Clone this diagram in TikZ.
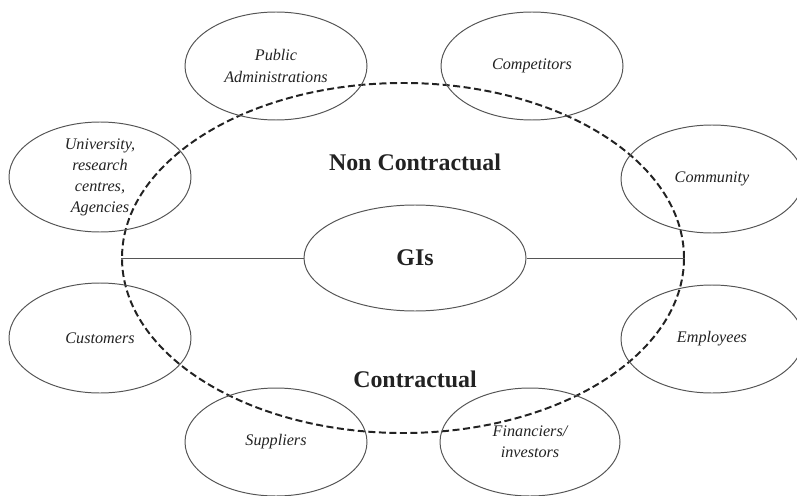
\documentclass[tikz,border=0pt]{standalone}
\usepackage{fontspec}
\setmainfont{Liberation Serif}
\usepackage{tikz}
\usetikzlibrary{shapes.geometric}
\definecolor{rimgray}{HTML}{555555}
\definecolor{inkdark}{HTML}{222222}

\begin{document}
\begin{tikzpicture}[
    party/.style={ellipse, draw=rimgray, line width=0.7pt, inner sep=0pt,
      minimum width=4.55cm, minimum height=2.7cm, align=center,
      font=\fontsize{11.5}{15}\selectfont\itshape, text=inkdark},
    boundary/.style={ellipse, draw=inkdark, line width=1.4pt,
      dash pattern=on 5pt off 2.5pt, inner sep=0pt},
    sector/.style={font=\fontsize{17}{20}\selectfont\bfseries, text=inkdark},
    split/.style={draw=rimgray, line width=0.7pt}
  ]
    \useasboundingbox (0, 0) rectangle (19.925, 12.375);
    \node[boundary, minimum width=14.05cm, minimum height=8.75cm] (field) at (10.075, 5.925) {};
    \node[party, minimum width=5.55cm, minimum height=2.65cm,
      font=\fontsize{17}{20}\selectfont\bfseries] (gis) at (10.375, 5.925) {GIs};
    \draw[split] (field.west) -- (gis.west);
    \draw[split] (gis.east) -- (field.east);
    \node[sector] (noncontr) at (10.375, 8.325) {Non Contractual};
    \node[sector] (contr) at (10.375, 2.9) {Contractual};
    % stakeholders around the circle
    \node[party] (padmin) at (6.9, 10.725) {Public\\Administrations};
    \node[party] (compet) at (13.3, 10.725) {Competitors};
    \node[party, minimum height=2.75cm] (univ) at (2.5, 7.95) {University,\\research\\centres,\\Agencies};
    \node[party] (commun) at (17.8, 7.9) {Community};
    \node[party, minimum height=2.75cm] (custom) at (2.5, 3.925) {Customers};
    \node[party] (employ) at (17.8, 3.9) {Employees};
    \node[party] (suppl) at (6.9, 1.325) {Suppliers};
    \node[party, minimum width=4.5cm] (financ) at (13.25, 1.325) {Financiers/\\investors};
\end{tikzpicture}
\end{document}
